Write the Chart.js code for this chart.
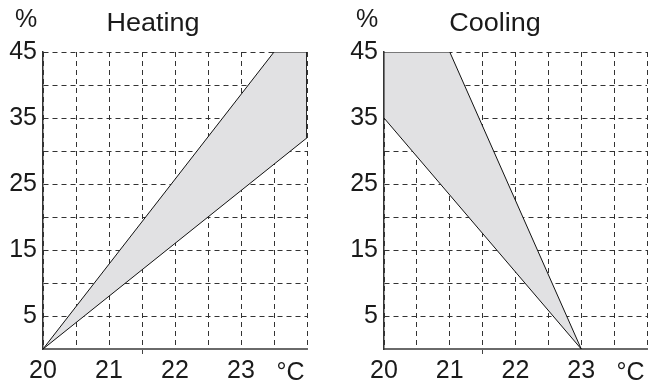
<!DOCTYPE html>
<html>
<head>
<meta charset="utf-8">
<script src="https://cdn.jsdelivr.net/npm/chart.js@4.4.1/dist/chart.umd.min.js"></script>
<style>
  body { margin: 0; background: #fff; width: 649px; height: 386px; position: relative; overflow: hidden; }
  canvas { position: absolute; top: 0; }
</style>
</head>
<body>
<canvas id="heat" width="320" height="386" style="left:0"></canvas>
<canvas id="cool" width="319" height="386" style="left:330px"></canvas>
<script>
"use strict";

// values
const pctLabels = [5, 15, 25, 35, 45];
const tempLabels = [20, 21, 22, 23];
const unitLabel = '°C';

const heatingTemp = [20, 23.5, 24, 24, 20];
const heatingPct  = [0, 45, 45, 32, 0];

const coolingTemp = [20, 21, 23, 20, 20];
const coolingPct  = [45, 45, 0, 35, 45];

const FONT = '"Liberation Sans", Arial, sans-serif';
const SIZE = 25;

// titles, % and °C
const panelText = {
	id: 'panelText',
	afterDraw(chart, args, opts) {
		const ctx = chart.ctx;
		ctx.save();
		ctx.fillStyle = '#1a1a1a';
		ctx.font = SIZE + 'px ' + FONT;
		ctx.textAlign = 'center';
		ctx.textBaseline = 'alphabetic';
		ctx.fillText('%', opts.pctX, 27);
		ctx.fillText(unitLabel, chart.scales.x.getPixelForValue(23.75), 380);
		// the title is set a bit wider in the original
		ctx.translate(opts.titleX, 31);
		ctx.scale(1.08, 1);
		ctx.fillText(opts.title, 0, 0);
		ctx.restore();
	}
};

function makeChart(id, temps, pcts, text, yWidth, rightPad) {
	const pts = temps.map((t, i) => ({x: t, y: pcts[i]}));
	return new Chart(document.getElementById(id), {
		type: 'scatter',
		data: {
			datasets: [{
				data: pts,
				showLine: true,
				fill: 'shape',
				backgroundColor: '#e1e1e3',
				borderColor: '#111',
				borderWidth: 1,
				pointRadius: 0,
				tension: 0
			}]
		},
		options: {
			responsive: false,
			animation: false,
			layout: {padding: {top: 52, right: rightPad, left: 0, bottom: 0}},
			plugins: {
				legend: {display: false},
				tooltip: {enabled: false},
				panelText: text
			},
			scales: {
				x: {
					type: 'linear',
					min: 20, max: 24,
					afterFit: s => { s.height = 37; },
					border: {display: true, color: '#6a6a6a', width: 2, dash: [5, 4]},
					grid: {
						color: '#333',
						lineWidth: 1,
						drawTicks: true,
						tickLength: 5,
						tickColor: c => c.tick && c.tick.value === 21.5 ? '#444' : 'rgba(0,0,0,0)'
					},
					ticks: {
						stepSize: 0.5,
						padding: 2,
						color: '#1a1a1a',
						font: {family: FONT, size: SIZE},
						maxRotation: 0,
						autoSkip: false,
						callback: v => tempLabels.includes(v) ? v : ''
					}
				},
				y: {
					min: 0, max: 45,
					afterFit: s => { s.width = yWidth; },
					border: {display: true, color: '#333', width: 1.5, dash: [5, 4]},
					grid: {color: '#333', lineWidth: 1, drawTicks: false},
					ticks: {
						stepSize: 5,
						padding: 6,
						color: '#1a1a1a',
						font: {family: FONT, size: SIZE},
						autoSkip: false,
						callback: v => pctLabels.includes(v) ? v : ''
					}
				}
			}
		},
		plugins: [panelText]
	});
}

const heatChart = makeChart('heat', heatingTemp, heatingPct, {title: 'Heating', pctX: 26, titleX: 153}, 43, 13);
const coolChart = makeChart('cool', coolingTemp, coolingPct, {title: 'Cooling', pctX: 37, titleX: 165}, 54, 1);
</script>
</body>
</html>
